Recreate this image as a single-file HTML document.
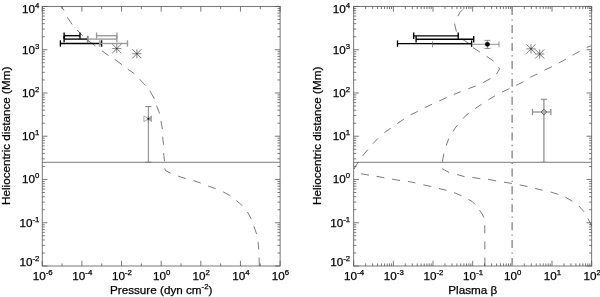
<!DOCTYPE html>
<html lang="en">
<head>
<meta charset="utf-8">
<title>Pressure and plasma beta vs heliocentric distance</title>
<style>html,body{margin:0;padding:0;background:#fff;}svg{display:block;}text{stroke:#000;stroke-width:0.25px;}</style>
</head>
<body>
<svg width="600" height="297" viewBox="0 0 600 297" font-family="'Liberation Sans', Arial, Helvetica, sans-serif" fill="#000" stroke="none">
<rect x="0" y="0" width="600" height="297" fill="#fff"/>
<rect x="42.25" y="6.45" width="237.85" height="259.55" fill="none" stroke="#585858" stroke-width="0.8"/>
<line x1="42.25" y1="266" x2="47.45" y2="266" stroke="#585858" stroke-width="0.8"/>
<line x1="280.1" y1="266" x2="274.9" y2="266" stroke="#585858" stroke-width="0.8"/>
<line x1="42.25" y1="252.98" x2="44.85" y2="252.98" stroke="#585858" stroke-width="0.8"/>
<line x1="280.1" y1="252.98" x2="277.5" y2="252.98" stroke="#585858" stroke-width="0.8"/>
<line x1="42.25" y1="245.36" x2="44.85" y2="245.36" stroke="#585858" stroke-width="0.8"/>
<line x1="280.1" y1="245.36" x2="277.5" y2="245.36" stroke="#585858" stroke-width="0.8"/>
<line x1="42.25" y1="239.96" x2="44.85" y2="239.96" stroke="#585858" stroke-width="0.8"/>
<line x1="280.1" y1="239.96" x2="277.5" y2="239.96" stroke="#585858" stroke-width="0.8"/>
<line x1="42.25" y1="235.76" x2="44.85" y2="235.76" stroke="#585858" stroke-width="0.8"/>
<line x1="280.1" y1="235.76" x2="277.5" y2="235.76" stroke="#585858" stroke-width="0.8"/>
<line x1="42.25" y1="232.34" x2="44.85" y2="232.34" stroke="#585858" stroke-width="0.8"/>
<line x1="280.1" y1="232.34" x2="277.5" y2="232.34" stroke="#585858" stroke-width="0.8"/>
<line x1="42.25" y1="229.44" x2="44.85" y2="229.44" stroke="#585858" stroke-width="0.8"/>
<line x1="280.1" y1="229.44" x2="277.5" y2="229.44" stroke="#585858" stroke-width="0.8"/>
<line x1="42.25" y1="226.93" x2="44.85" y2="226.93" stroke="#585858" stroke-width="0.8"/>
<line x1="280.1" y1="226.93" x2="277.5" y2="226.93" stroke="#585858" stroke-width="0.8"/>
<line x1="42.25" y1="224.72" x2="44.85" y2="224.72" stroke="#585858" stroke-width="0.8"/>
<line x1="280.1" y1="224.72" x2="277.5" y2="224.72" stroke="#585858" stroke-width="0.8"/>
<line x1="42.25" y1="222.74" x2="47.45" y2="222.74" stroke="#585858" stroke-width="0.8"/>
<line x1="280.1" y1="222.74" x2="274.9" y2="222.74" stroke="#585858" stroke-width="0.8"/>
<line x1="42.25" y1="209.72" x2="44.85" y2="209.72" stroke="#585858" stroke-width="0.8"/>
<line x1="280.1" y1="209.72" x2="277.5" y2="209.72" stroke="#585858" stroke-width="0.8"/>
<line x1="42.25" y1="202.1" x2="44.85" y2="202.1" stroke="#585858" stroke-width="0.8"/>
<line x1="280.1" y1="202.1" x2="277.5" y2="202.1" stroke="#585858" stroke-width="0.8"/>
<line x1="42.25" y1="196.7" x2="44.85" y2="196.7" stroke="#585858" stroke-width="0.8"/>
<line x1="280.1" y1="196.7" x2="277.5" y2="196.7" stroke="#585858" stroke-width="0.8"/>
<line x1="42.25" y1="192.51" x2="44.85" y2="192.51" stroke="#585858" stroke-width="0.8"/>
<line x1="280.1" y1="192.51" x2="277.5" y2="192.51" stroke="#585858" stroke-width="0.8"/>
<line x1="42.25" y1="189.08" x2="44.85" y2="189.08" stroke="#585858" stroke-width="0.8"/>
<line x1="280.1" y1="189.08" x2="277.5" y2="189.08" stroke="#585858" stroke-width="0.8"/>
<line x1="42.25" y1="186.18" x2="44.85" y2="186.18" stroke="#585858" stroke-width="0.8"/>
<line x1="280.1" y1="186.18" x2="277.5" y2="186.18" stroke="#585858" stroke-width="0.8"/>
<line x1="42.25" y1="183.68" x2="44.85" y2="183.68" stroke="#585858" stroke-width="0.8"/>
<line x1="280.1" y1="183.68" x2="277.5" y2="183.68" stroke="#585858" stroke-width="0.8"/>
<line x1="42.25" y1="181.46" x2="44.85" y2="181.46" stroke="#585858" stroke-width="0.8"/>
<line x1="280.1" y1="181.46" x2="277.5" y2="181.46" stroke="#585858" stroke-width="0.8"/>
<line x1="42.25" y1="179.48" x2="47.45" y2="179.48" stroke="#585858" stroke-width="0.8"/>
<line x1="280.1" y1="179.48" x2="274.9" y2="179.48" stroke="#585858" stroke-width="0.8"/>
<line x1="42.25" y1="166.46" x2="44.85" y2="166.46" stroke="#585858" stroke-width="0.8"/>
<line x1="280.1" y1="166.46" x2="277.5" y2="166.46" stroke="#585858" stroke-width="0.8"/>
<line x1="42.25" y1="158.84" x2="44.85" y2="158.84" stroke="#585858" stroke-width="0.8"/>
<line x1="280.1" y1="158.84" x2="277.5" y2="158.84" stroke="#585858" stroke-width="0.8"/>
<line x1="42.25" y1="153.44" x2="44.85" y2="153.44" stroke="#585858" stroke-width="0.8"/>
<line x1="280.1" y1="153.44" x2="277.5" y2="153.44" stroke="#585858" stroke-width="0.8"/>
<line x1="42.25" y1="149.25" x2="44.85" y2="149.25" stroke="#585858" stroke-width="0.8"/>
<line x1="280.1" y1="149.25" x2="277.5" y2="149.25" stroke="#585858" stroke-width="0.8"/>
<line x1="42.25" y1="145.82" x2="44.85" y2="145.82" stroke="#585858" stroke-width="0.8"/>
<line x1="280.1" y1="145.82" x2="277.5" y2="145.82" stroke="#585858" stroke-width="0.8"/>
<line x1="42.25" y1="142.93" x2="44.85" y2="142.93" stroke="#585858" stroke-width="0.8"/>
<line x1="280.1" y1="142.93" x2="277.5" y2="142.93" stroke="#585858" stroke-width="0.8"/>
<line x1="42.25" y1="140.42" x2="44.85" y2="140.42" stroke="#585858" stroke-width="0.8"/>
<line x1="280.1" y1="140.42" x2="277.5" y2="140.42" stroke="#585858" stroke-width="0.8"/>
<line x1="42.25" y1="138.2" x2="44.85" y2="138.2" stroke="#585858" stroke-width="0.8"/>
<line x1="280.1" y1="138.2" x2="277.5" y2="138.2" stroke="#585858" stroke-width="0.8"/>
<line x1="42.25" y1="136.22" x2="47.45" y2="136.22" stroke="#585858" stroke-width="0.8"/>
<line x1="280.1" y1="136.22" x2="274.9" y2="136.22" stroke="#585858" stroke-width="0.8"/>
<line x1="42.25" y1="123.2" x2="44.85" y2="123.2" stroke="#585858" stroke-width="0.8"/>
<line x1="280.1" y1="123.2" x2="277.5" y2="123.2" stroke="#585858" stroke-width="0.8"/>
<line x1="42.25" y1="115.59" x2="44.85" y2="115.59" stroke="#585858" stroke-width="0.8"/>
<line x1="280.1" y1="115.59" x2="277.5" y2="115.59" stroke="#585858" stroke-width="0.8"/>
<line x1="42.25" y1="110.18" x2="44.85" y2="110.18" stroke="#585858" stroke-width="0.8"/>
<line x1="280.1" y1="110.18" x2="277.5" y2="110.18" stroke="#585858" stroke-width="0.8"/>
<line x1="42.25" y1="105.99" x2="44.85" y2="105.99" stroke="#585858" stroke-width="0.8"/>
<line x1="280.1" y1="105.99" x2="277.5" y2="105.99" stroke="#585858" stroke-width="0.8"/>
<line x1="42.25" y1="102.56" x2="44.85" y2="102.56" stroke="#585858" stroke-width="0.8"/>
<line x1="280.1" y1="102.56" x2="277.5" y2="102.56" stroke="#585858" stroke-width="0.8"/>
<line x1="42.25" y1="99.67" x2="44.85" y2="99.67" stroke="#585858" stroke-width="0.8"/>
<line x1="280.1" y1="99.67" x2="277.5" y2="99.67" stroke="#585858" stroke-width="0.8"/>
<line x1="42.25" y1="97.16" x2="44.85" y2="97.16" stroke="#585858" stroke-width="0.8"/>
<line x1="280.1" y1="97.16" x2="277.5" y2="97.16" stroke="#585858" stroke-width="0.8"/>
<line x1="42.25" y1="94.95" x2="44.85" y2="94.95" stroke="#585858" stroke-width="0.8"/>
<line x1="280.1" y1="94.95" x2="277.5" y2="94.95" stroke="#585858" stroke-width="0.8"/>
<line x1="42.25" y1="92.97" x2="47.45" y2="92.97" stroke="#585858" stroke-width="0.8"/>
<line x1="280.1" y1="92.97" x2="274.9" y2="92.97" stroke="#585858" stroke-width="0.8"/>
<line x1="42.25" y1="79.94" x2="44.85" y2="79.94" stroke="#585858" stroke-width="0.8"/>
<line x1="280.1" y1="79.94" x2="277.5" y2="79.94" stroke="#585858" stroke-width="0.8"/>
<line x1="42.25" y1="72.33" x2="44.85" y2="72.33" stroke="#585858" stroke-width="0.8"/>
<line x1="280.1" y1="72.33" x2="277.5" y2="72.33" stroke="#585858" stroke-width="0.8"/>
<line x1="42.25" y1="66.92" x2="44.85" y2="66.92" stroke="#585858" stroke-width="0.8"/>
<line x1="280.1" y1="66.92" x2="277.5" y2="66.92" stroke="#585858" stroke-width="0.8"/>
<line x1="42.25" y1="62.73" x2="44.85" y2="62.73" stroke="#585858" stroke-width="0.8"/>
<line x1="280.1" y1="62.73" x2="277.5" y2="62.73" stroke="#585858" stroke-width="0.8"/>
<line x1="42.25" y1="59.31" x2="44.85" y2="59.31" stroke="#585858" stroke-width="0.8"/>
<line x1="280.1" y1="59.31" x2="277.5" y2="59.31" stroke="#585858" stroke-width="0.8"/>
<line x1="42.25" y1="56.41" x2="44.85" y2="56.41" stroke="#585858" stroke-width="0.8"/>
<line x1="280.1" y1="56.41" x2="277.5" y2="56.41" stroke="#585858" stroke-width="0.8"/>
<line x1="42.25" y1="53.9" x2="44.85" y2="53.9" stroke="#585858" stroke-width="0.8"/>
<line x1="280.1" y1="53.9" x2="277.5" y2="53.9" stroke="#585858" stroke-width="0.8"/>
<line x1="42.25" y1="51.69" x2="44.85" y2="51.69" stroke="#585858" stroke-width="0.8"/>
<line x1="280.1" y1="51.69" x2="277.5" y2="51.69" stroke="#585858" stroke-width="0.8"/>
<line x1="42.25" y1="49.71" x2="47.45" y2="49.71" stroke="#585858" stroke-width="0.8"/>
<line x1="280.1" y1="49.71" x2="274.9" y2="49.71" stroke="#585858" stroke-width="0.8"/>
<line x1="42.25" y1="36.69" x2="44.85" y2="36.69" stroke="#585858" stroke-width="0.8"/>
<line x1="280.1" y1="36.69" x2="277.5" y2="36.69" stroke="#585858" stroke-width="0.8"/>
<line x1="42.25" y1="29.07" x2="44.85" y2="29.07" stroke="#585858" stroke-width="0.8"/>
<line x1="280.1" y1="29.07" x2="277.5" y2="29.07" stroke="#585858" stroke-width="0.8"/>
<line x1="42.25" y1="23.66" x2="44.85" y2="23.66" stroke="#585858" stroke-width="0.8"/>
<line x1="280.1" y1="23.66" x2="277.5" y2="23.66" stroke="#585858" stroke-width="0.8"/>
<line x1="42.25" y1="19.47" x2="44.85" y2="19.47" stroke="#585858" stroke-width="0.8"/>
<line x1="280.1" y1="19.47" x2="277.5" y2="19.47" stroke="#585858" stroke-width="0.8"/>
<line x1="42.25" y1="16.05" x2="44.85" y2="16.05" stroke="#585858" stroke-width="0.8"/>
<line x1="280.1" y1="16.05" x2="277.5" y2="16.05" stroke="#585858" stroke-width="0.8"/>
<line x1="42.25" y1="13.15" x2="44.85" y2="13.15" stroke="#585858" stroke-width="0.8"/>
<line x1="280.1" y1="13.15" x2="277.5" y2="13.15" stroke="#585858" stroke-width="0.8"/>
<line x1="42.25" y1="10.64" x2="44.85" y2="10.64" stroke="#585858" stroke-width="0.8"/>
<line x1="280.1" y1="10.64" x2="277.5" y2="10.64" stroke="#585858" stroke-width="0.8"/>
<line x1="42.25" y1="8.43" x2="44.85" y2="8.43" stroke="#585858" stroke-width="0.8"/>
<line x1="280.1" y1="8.43" x2="277.5" y2="8.43" stroke="#585858" stroke-width="0.8"/>
<line x1="42.25" y1="6.45" x2="47.45" y2="6.45" stroke="#585858" stroke-width="0.8"/>
<line x1="280.1" y1="6.45" x2="274.9" y2="6.45" stroke="#585858" stroke-width="0.8"/>
<line x1="42.25" y1="6.45" x2="42.25" y2="11.65" stroke="#585858" stroke-width="0.8"/>
<line x1="42.25" y1="266" x2="42.25" y2="260.8" stroke="#585858" stroke-width="0.8"/>
<line x1="62.07" y1="6.45" x2="62.07" y2="9.05" stroke="#585858" stroke-width="0.8"/>
<line x1="62.07" y1="266" x2="62.07" y2="263.4" stroke="#585858" stroke-width="0.8"/>
<line x1="81.89" y1="6.45" x2="81.89" y2="11.65" stroke="#585858" stroke-width="0.8"/>
<line x1="81.89" y1="266" x2="81.89" y2="260.8" stroke="#585858" stroke-width="0.8"/>
<line x1="101.71" y1="6.45" x2="101.71" y2="9.05" stroke="#585858" stroke-width="0.8"/>
<line x1="101.71" y1="266" x2="101.71" y2="263.4" stroke="#585858" stroke-width="0.8"/>
<line x1="121.53" y1="6.45" x2="121.53" y2="11.65" stroke="#585858" stroke-width="0.8"/>
<line x1="121.53" y1="266" x2="121.53" y2="260.8" stroke="#585858" stroke-width="0.8"/>
<line x1="141.35" y1="6.45" x2="141.35" y2="9.05" stroke="#585858" stroke-width="0.8"/>
<line x1="141.35" y1="266" x2="141.35" y2="263.4" stroke="#585858" stroke-width="0.8"/>
<line x1="161.18" y1="6.45" x2="161.18" y2="11.65" stroke="#585858" stroke-width="0.8"/>
<line x1="161.18" y1="266" x2="161.18" y2="260.8" stroke="#585858" stroke-width="0.8"/>
<line x1="181" y1="6.45" x2="181" y2="9.05" stroke="#585858" stroke-width="0.8"/>
<line x1="181" y1="266" x2="181" y2="263.4" stroke="#585858" stroke-width="0.8"/>
<line x1="200.82" y1="6.45" x2="200.82" y2="11.65" stroke="#585858" stroke-width="0.8"/>
<line x1="200.82" y1="266" x2="200.82" y2="260.8" stroke="#585858" stroke-width="0.8"/>
<line x1="220.64" y1="6.45" x2="220.64" y2="9.05" stroke="#585858" stroke-width="0.8"/>
<line x1="220.64" y1="266" x2="220.64" y2="263.4" stroke="#585858" stroke-width="0.8"/>
<line x1="240.46" y1="6.45" x2="240.46" y2="11.65" stroke="#585858" stroke-width="0.8"/>
<line x1="240.46" y1="266" x2="240.46" y2="260.8" stroke="#585858" stroke-width="0.8"/>
<line x1="260.28" y1="6.45" x2="260.28" y2="9.05" stroke="#585858" stroke-width="0.8"/>
<line x1="260.28" y1="266" x2="260.28" y2="263.4" stroke="#585858" stroke-width="0.8"/>
<line x1="280.1" y1="6.45" x2="280.1" y2="11.65" stroke="#585858" stroke-width="0.8"/>
<line x1="280.1" y1="266" x2="280.1" y2="260.8" stroke="#585858" stroke-width="0.8"/>
<line x1="42.25" y1="162.3" x2="280.1" y2="162.3" stroke="#585858" stroke-width="0.8"/>
<text x="39.35" y="13" text-anchor="end" font-size="11.7">10<tspan dy="-5" font-size="7.8">4</tspan></text>
<text x="39.35" y="53.61" text-anchor="end" font-size="11.7">10<tspan dy="-5" font-size="7.8">3</tspan></text>
<text x="39.35" y="96.87" text-anchor="end" font-size="11.7">10<tspan dy="-5" font-size="7.8">2</tspan></text>
<text x="39.35" y="140.12" text-anchor="end" font-size="11.7">10<tspan dy="-5" font-size="7.8">1</tspan></text>
<text x="39.35" y="183.38" text-anchor="end" font-size="11.7">10<tspan dy="-5" font-size="7.8">0</tspan></text>
<text x="39.35" y="226.64" text-anchor="end" font-size="11.7">10<tspan dy="-5" font-size="7.8">-1</tspan></text>
<text x="39.35" y="265.6" text-anchor="end" font-size="11.7">10<tspan dy="-5" font-size="7.8">-2</tspan></text>
<text x="42.65" y="280.2" text-anchor="middle" font-size="11.7">10<tspan dy="-5" font-size="7.8">-6</tspan></text>
<text x="82.29" y="280.2" text-anchor="middle" font-size="11.7">10<tspan dy="-5" font-size="7.8">-4</tspan></text>
<text x="121.93" y="280.2" text-anchor="middle" font-size="11.7">10<tspan dy="-5" font-size="7.8">-2</tspan></text>
<text x="161.58" y="280.2" text-anchor="middle" font-size="11.7">10<tspan dy="-5" font-size="7.8">0</tspan></text>
<text x="201.22" y="280.2" text-anchor="middle" font-size="11.7">10<tspan dy="-5" font-size="7.8">2</tspan></text>
<text x="240.86" y="280.2" text-anchor="middle" font-size="11.7">10<tspan dy="-5" font-size="7.8">4</tspan></text>
<text x="280.5" y="280.2" text-anchor="middle" font-size="11.7">10<tspan dy="-5" font-size="7.8">6</tspan></text>
<text x="161.2" y="293.6" text-anchor="middle" font-size="11.7">Pressure (dyn cm<tspan dy="-5" font-size="7.8">-2</tspan><tspan dy="5" font-size="11.7">)</tspan></text>
<text transform="translate(10.1,135.8) rotate(-90)" text-anchor="middle" font-size="11.7">Heliocentric distance (Mm)</text>
<polyline points="61.4,6.5 64,10.4" fill="none" stroke="#333" stroke-width="0.65"/>
<polyline points="67.2,17.2 72.2,24.5" fill="none" stroke="#333" stroke-width="0.65"/>
<polyline points="77.2,30 82.6,35.7" fill="none" stroke="#333" stroke-width="0.65"/>
<polyline points="88.4,40.7 95.5,46" fill="none" stroke="#333" stroke-width="0.65"/>
<polyline points="101.9,50.8 108.5,55.5" fill="none" stroke="#333" stroke-width="0.65"/>
<polyline points="114.9,59.5 121.9,64.6" fill="none" stroke="#333" stroke-width="0.65"/>
<polyline points="127.7,69 134.3,73.7" fill="none" stroke="#333" stroke-width="0.65"/>
<polyline points="139.6,79.2 145.6,85.5" fill="none" stroke="#333" stroke-width="0.65"/>
<polyline points="149.9,90.9 154.3,98.7" fill="none" stroke="#333" stroke-width="0.65"/>
<polyline points="156.5,105.7 159.6,113.5" fill="none" stroke="#333" stroke-width="0.65"/>
<polyline points="161,120.9 162.3,129" fill="none" stroke="#333" stroke-width="0.65"/>
<polyline points="162.6,136.7 163.6,144.8" fill="none" stroke="#333" stroke-width="0.65"/>
<polyline points="163.6,152.9 164.5,161.2" fill="none" stroke="#333" stroke-width="0.65"/>
<polyline points="164.8,168.5 165.5,170.5 170.5,173.2" fill="none" stroke="#333" stroke-width="0.65"/>
<polyline points="178,176.1 185.7,178.6" fill="none" stroke="#333" stroke-width="0.65"/>
<polyline points="193.4,180.6 200.8,183" fill="none" stroke="#333" stroke-width="0.65"/>
<polyline points="208.2,186 215.6,188.7" fill="none" stroke="#333" stroke-width="0.65"/>
<polyline points="223.1,191.85 230.2,195.75" fill="none" stroke="#333" stroke-width="0.65"/>
<polyline points="236.3,200.5 242.3,205.6" fill="none" stroke="#333" stroke-width="0.65"/>
<polyline points="247.5,212 251.2,218.9" fill="none" stroke="#333" stroke-width="0.65"/>
<polyline points="253.9,226.2 256.6,234" fill="none" stroke="#333" stroke-width="0.65"/>
<polyline points="258,241.8 258.8,249.5" fill="none" stroke="#333" stroke-width="0.65"/>
<polyline points="259.1,257.6 259.3,266" fill="none" stroke="#333" stroke-width="0.65"/>
<line x1="64.1" y1="35.7" x2="80" y2="35.7" stroke="#000" stroke-width="1.35"/>
<line x1="64.1" y1="32.5" x2="64.1" y2="38.9" stroke="#000" stroke-width="1.35"/>
<line x1="80" y1="32.5" x2="80" y2="38.9" stroke="#000" stroke-width="1.35"/>
<line x1="64.1" y1="39.1" x2="87.6" y2="39.1" stroke="#000" stroke-width="1.35"/>
<line x1="64.1" y1="35.9" x2="64.1" y2="42.3" stroke="#000" stroke-width="1.35"/>
<line x1="87.6" y1="35.9" x2="87.6" y2="42.3" stroke="#000" stroke-width="1.35"/>
<line x1="60.4" y1="43.5" x2="101.6" y2="43.5" stroke="#000" stroke-width="1.35"/>
<line x1="60.4" y1="40.3" x2="60.4" y2="46.7" stroke="#000" stroke-width="1.35"/>
<line x1="101.6" y1="40.3" x2="101.6" y2="46.7" stroke="#000" stroke-width="1.35"/>
<line x1="96.6" y1="35.7" x2="117" y2="35.7" stroke="#999" stroke-width="1.35"/>
<line x1="96.6" y1="32.5" x2="96.6" y2="38.9" stroke="#999" stroke-width="1.35"/>
<line x1="117" y1="32.5" x2="117" y2="38.9" stroke="#999" stroke-width="1.35"/>
<line x1="87.8" y1="39.1" x2="116.8" y2="39.1" stroke="#999" stroke-width="1.35"/>
<line x1="87.8" y1="35.9" x2="87.8" y2="42.3" stroke="#999" stroke-width="1.35"/>
<line x1="116.8" y1="35.9" x2="116.8" y2="42.3" stroke="#999" stroke-width="1.35"/>
<line x1="99.8" y1="43.5" x2="127.5" y2="43.5" stroke="#999" stroke-width="1.35"/>
<line x1="99.8" y1="40.3" x2="99.8" y2="46.7" stroke="#999" stroke-width="1.35"/>
<line x1="127.5" y1="40.3" x2="127.5" y2="46.7" stroke="#999" stroke-width="1.35"/>
<line x1="112.2" y1="48.6" x2="121.4" y2="48.6" stroke="#333" stroke-width="0.6"/>
<line x1="116.8" y1="44" x2="116.8" y2="53.2" stroke="#333" stroke-width="0.6"/>
<line x1="112.2" y1="44" x2="121.4" y2="53.2" stroke="#222" stroke-width="0.6"/>
<line x1="112.2" y1="53.2" x2="121.4" y2="44" stroke="#222" stroke-width="0.6"/>
<line x1="132.3" y1="53.75" x2="141.5" y2="53.75" stroke="#333" stroke-width="0.6"/>
<line x1="136.9" y1="49.15" x2="136.9" y2="58.35" stroke="#333" stroke-width="0.6"/>
<line x1="132.3" y1="49.15" x2="141.5" y2="58.35" stroke="#222" stroke-width="0.6"/>
<line x1="132.3" y1="58.35" x2="141.5" y2="49.15" stroke="#222" stroke-width="0.6"/>
<line x1="148.35" y1="106.6" x2="148.35" y2="162.3" stroke="#777" stroke-width="0.9"/>
<line x1="145.25" y1="106.6" x2="151.45" y2="106.6" stroke="#777" stroke-width="0.9"/>
<line x1="145.25" y1="162.3" x2="151.45" y2="162.3" stroke="#777" stroke-width="0.9"/>
<polygon points="143.9,115.85 148.35,118.75 143.9,121.65" fill="#fff" stroke="#999" stroke-width="0.8"/>
<polygon points="151.5,115.85 148.35,118.75 151.5,121.65" fill="#aaa" stroke="#999" stroke-width="0.8"/>
<line x1="148.35" y1="115.75" x2="148.35" y2="121.75" stroke="#777" stroke-width="0.9"/>
<circle cx="148.35" cy="118.75" r="0.9" fill="#111"/>
<rect x="353.7" y="6.45" width="238" height="259.55" fill="none" stroke="#585858" stroke-width="0.8"/>
<line x1="353.7" y1="266" x2="358.9" y2="266" stroke="#585858" stroke-width="0.8"/>
<line x1="591.7" y1="266" x2="586.5" y2="266" stroke="#585858" stroke-width="0.8"/>
<line x1="353.7" y1="252.98" x2="356.3" y2="252.98" stroke="#585858" stroke-width="0.8"/>
<line x1="591.7" y1="252.98" x2="589.1" y2="252.98" stroke="#585858" stroke-width="0.8"/>
<line x1="353.7" y1="245.36" x2="356.3" y2="245.36" stroke="#585858" stroke-width="0.8"/>
<line x1="591.7" y1="245.36" x2="589.1" y2="245.36" stroke="#585858" stroke-width="0.8"/>
<line x1="353.7" y1="239.96" x2="356.3" y2="239.96" stroke="#585858" stroke-width="0.8"/>
<line x1="591.7" y1="239.96" x2="589.1" y2="239.96" stroke="#585858" stroke-width="0.8"/>
<line x1="353.7" y1="235.76" x2="356.3" y2="235.76" stroke="#585858" stroke-width="0.8"/>
<line x1="591.7" y1="235.76" x2="589.1" y2="235.76" stroke="#585858" stroke-width="0.8"/>
<line x1="353.7" y1="232.34" x2="356.3" y2="232.34" stroke="#585858" stroke-width="0.8"/>
<line x1="591.7" y1="232.34" x2="589.1" y2="232.34" stroke="#585858" stroke-width="0.8"/>
<line x1="353.7" y1="229.44" x2="356.3" y2="229.44" stroke="#585858" stroke-width="0.8"/>
<line x1="591.7" y1="229.44" x2="589.1" y2="229.44" stroke="#585858" stroke-width="0.8"/>
<line x1="353.7" y1="226.93" x2="356.3" y2="226.93" stroke="#585858" stroke-width="0.8"/>
<line x1="591.7" y1="226.93" x2="589.1" y2="226.93" stroke="#585858" stroke-width="0.8"/>
<line x1="353.7" y1="224.72" x2="356.3" y2="224.72" stroke="#585858" stroke-width="0.8"/>
<line x1="591.7" y1="224.72" x2="589.1" y2="224.72" stroke="#585858" stroke-width="0.8"/>
<line x1="353.7" y1="222.74" x2="358.9" y2="222.74" stroke="#585858" stroke-width="0.8"/>
<line x1="591.7" y1="222.74" x2="586.5" y2="222.74" stroke="#585858" stroke-width="0.8"/>
<line x1="353.7" y1="209.72" x2="356.3" y2="209.72" stroke="#585858" stroke-width="0.8"/>
<line x1="591.7" y1="209.72" x2="589.1" y2="209.72" stroke="#585858" stroke-width="0.8"/>
<line x1="353.7" y1="202.1" x2="356.3" y2="202.1" stroke="#585858" stroke-width="0.8"/>
<line x1="591.7" y1="202.1" x2="589.1" y2="202.1" stroke="#585858" stroke-width="0.8"/>
<line x1="353.7" y1="196.7" x2="356.3" y2="196.7" stroke="#585858" stroke-width="0.8"/>
<line x1="591.7" y1="196.7" x2="589.1" y2="196.7" stroke="#585858" stroke-width="0.8"/>
<line x1="353.7" y1="192.51" x2="356.3" y2="192.51" stroke="#585858" stroke-width="0.8"/>
<line x1="591.7" y1="192.51" x2="589.1" y2="192.51" stroke="#585858" stroke-width="0.8"/>
<line x1="353.7" y1="189.08" x2="356.3" y2="189.08" stroke="#585858" stroke-width="0.8"/>
<line x1="591.7" y1="189.08" x2="589.1" y2="189.08" stroke="#585858" stroke-width="0.8"/>
<line x1="353.7" y1="186.18" x2="356.3" y2="186.18" stroke="#585858" stroke-width="0.8"/>
<line x1="591.7" y1="186.18" x2="589.1" y2="186.18" stroke="#585858" stroke-width="0.8"/>
<line x1="353.7" y1="183.68" x2="356.3" y2="183.68" stroke="#585858" stroke-width="0.8"/>
<line x1="591.7" y1="183.68" x2="589.1" y2="183.68" stroke="#585858" stroke-width="0.8"/>
<line x1="353.7" y1="181.46" x2="356.3" y2="181.46" stroke="#585858" stroke-width="0.8"/>
<line x1="591.7" y1="181.46" x2="589.1" y2="181.46" stroke="#585858" stroke-width="0.8"/>
<line x1="353.7" y1="179.48" x2="358.9" y2="179.48" stroke="#585858" stroke-width="0.8"/>
<line x1="591.7" y1="179.48" x2="586.5" y2="179.48" stroke="#585858" stroke-width="0.8"/>
<line x1="353.7" y1="166.46" x2="356.3" y2="166.46" stroke="#585858" stroke-width="0.8"/>
<line x1="591.7" y1="166.46" x2="589.1" y2="166.46" stroke="#585858" stroke-width="0.8"/>
<line x1="353.7" y1="158.84" x2="356.3" y2="158.84" stroke="#585858" stroke-width="0.8"/>
<line x1="591.7" y1="158.84" x2="589.1" y2="158.84" stroke="#585858" stroke-width="0.8"/>
<line x1="353.7" y1="153.44" x2="356.3" y2="153.44" stroke="#585858" stroke-width="0.8"/>
<line x1="591.7" y1="153.44" x2="589.1" y2="153.44" stroke="#585858" stroke-width="0.8"/>
<line x1="353.7" y1="149.25" x2="356.3" y2="149.25" stroke="#585858" stroke-width="0.8"/>
<line x1="591.7" y1="149.25" x2="589.1" y2="149.25" stroke="#585858" stroke-width="0.8"/>
<line x1="353.7" y1="145.82" x2="356.3" y2="145.82" stroke="#585858" stroke-width="0.8"/>
<line x1="591.7" y1="145.82" x2="589.1" y2="145.82" stroke="#585858" stroke-width="0.8"/>
<line x1="353.7" y1="142.93" x2="356.3" y2="142.93" stroke="#585858" stroke-width="0.8"/>
<line x1="591.7" y1="142.93" x2="589.1" y2="142.93" stroke="#585858" stroke-width="0.8"/>
<line x1="353.7" y1="140.42" x2="356.3" y2="140.42" stroke="#585858" stroke-width="0.8"/>
<line x1="591.7" y1="140.42" x2="589.1" y2="140.42" stroke="#585858" stroke-width="0.8"/>
<line x1="353.7" y1="138.2" x2="356.3" y2="138.2" stroke="#585858" stroke-width="0.8"/>
<line x1="591.7" y1="138.2" x2="589.1" y2="138.2" stroke="#585858" stroke-width="0.8"/>
<line x1="353.7" y1="136.22" x2="358.9" y2="136.22" stroke="#585858" stroke-width="0.8"/>
<line x1="591.7" y1="136.22" x2="586.5" y2="136.22" stroke="#585858" stroke-width="0.8"/>
<line x1="353.7" y1="123.2" x2="356.3" y2="123.2" stroke="#585858" stroke-width="0.8"/>
<line x1="591.7" y1="123.2" x2="589.1" y2="123.2" stroke="#585858" stroke-width="0.8"/>
<line x1="353.7" y1="115.59" x2="356.3" y2="115.59" stroke="#585858" stroke-width="0.8"/>
<line x1="591.7" y1="115.59" x2="589.1" y2="115.59" stroke="#585858" stroke-width="0.8"/>
<line x1="353.7" y1="110.18" x2="356.3" y2="110.18" stroke="#585858" stroke-width="0.8"/>
<line x1="591.7" y1="110.18" x2="589.1" y2="110.18" stroke="#585858" stroke-width="0.8"/>
<line x1="353.7" y1="105.99" x2="356.3" y2="105.99" stroke="#585858" stroke-width="0.8"/>
<line x1="591.7" y1="105.99" x2="589.1" y2="105.99" stroke="#585858" stroke-width="0.8"/>
<line x1="353.7" y1="102.56" x2="356.3" y2="102.56" stroke="#585858" stroke-width="0.8"/>
<line x1="591.7" y1="102.56" x2="589.1" y2="102.56" stroke="#585858" stroke-width="0.8"/>
<line x1="353.7" y1="99.67" x2="356.3" y2="99.67" stroke="#585858" stroke-width="0.8"/>
<line x1="591.7" y1="99.67" x2="589.1" y2="99.67" stroke="#585858" stroke-width="0.8"/>
<line x1="353.7" y1="97.16" x2="356.3" y2="97.16" stroke="#585858" stroke-width="0.8"/>
<line x1="591.7" y1="97.16" x2="589.1" y2="97.16" stroke="#585858" stroke-width="0.8"/>
<line x1="353.7" y1="94.95" x2="356.3" y2="94.95" stroke="#585858" stroke-width="0.8"/>
<line x1="591.7" y1="94.95" x2="589.1" y2="94.95" stroke="#585858" stroke-width="0.8"/>
<line x1="353.7" y1="92.97" x2="358.9" y2="92.97" stroke="#585858" stroke-width="0.8"/>
<line x1="591.7" y1="92.97" x2="586.5" y2="92.97" stroke="#585858" stroke-width="0.8"/>
<line x1="353.7" y1="79.94" x2="356.3" y2="79.94" stroke="#585858" stroke-width="0.8"/>
<line x1="591.7" y1="79.94" x2="589.1" y2="79.94" stroke="#585858" stroke-width="0.8"/>
<line x1="353.7" y1="72.33" x2="356.3" y2="72.33" stroke="#585858" stroke-width="0.8"/>
<line x1="591.7" y1="72.33" x2="589.1" y2="72.33" stroke="#585858" stroke-width="0.8"/>
<line x1="353.7" y1="66.92" x2="356.3" y2="66.92" stroke="#585858" stroke-width="0.8"/>
<line x1="591.7" y1="66.92" x2="589.1" y2="66.92" stroke="#585858" stroke-width="0.8"/>
<line x1="353.7" y1="62.73" x2="356.3" y2="62.73" stroke="#585858" stroke-width="0.8"/>
<line x1="591.7" y1="62.73" x2="589.1" y2="62.73" stroke="#585858" stroke-width="0.8"/>
<line x1="353.7" y1="59.31" x2="356.3" y2="59.31" stroke="#585858" stroke-width="0.8"/>
<line x1="591.7" y1="59.31" x2="589.1" y2="59.31" stroke="#585858" stroke-width="0.8"/>
<line x1="353.7" y1="56.41" x2="356.3" y2="56.41" stroke="#585858" stroke-width="0.8"/>
<line x1="591.7" y1="56.41" x2="589.1" y2="56.41" stroke="#585858" stroke-width="0.8"/>
<line x1="353.7" y1="53.9" x2="356.3" y2="53.9" stroke="#585858" stroke-width="0.8"/>
<line x1="591.7" y1="53.9" x2="589.1" y2="53.9" stroke="#585858" stroke-width="0.8"/>
<line x1="353.7" y1="51.69" x2="356.3" y2="51.69" stroke="#585858" stroke-width="0.8"/>
<line x1="591.7" y1="51.69" x2="589.1" y2="51.69" stroke="#585858" stroke-width="0.8"/>
<line x1="353.7" y1="49.71" x2="358.9" y2="49.71" stroke="#585858" stroke-width="0.8"/>
<line x1="591.7" y1="49.71" x2="586.5" y2="49.71" stroke="#585858" stroke-width="0.8"/>
<line x1="353.7" y1="36.69" x2="356.3" y2="36.69" stroke="#585858" stroke-width="0.8"/>
<line x1="591.7" y1="36.69" x2="589.1" y2="36.69" stroke="#585858" stroke-width="0.8"/>
<line x1="353.7" y1="29.07" x2="356.3" y2="29.07" stroke="#585858" stroke-width="0.8"/>
<line x1="591.7" y1="29.07" x2="589.1" y2="29.07" stroke="#585858" stroke-width="0.8"/>
<line x1="353.7" y1="23.66" x2="356.3" y2="23.66" stroke="#585858" stroke-width="0.8"/>
<line x1="591.7" y1="23.66" x2="589.1" y2="23.66" stroke="#585858" stroke-width="0.8"/>
<line x1="353.7" y1="19.47" x2="356.3" y2="19.47" stroke="#585858" stroke-width="0.8"/>
<line x1="591.7" y1="19.47" x2="589.1" y2="19.47" stroke="#585858" stroke-width="0.8"/>
<line x1="353.7" y1="16.05" x2="356.3" y2="16.05" stroke="#585858" stroke-width="0.8"/>
<line x1="591.7" y1="16.05" x2="589.1" y2="16.05" stroke="#585858" stroke-width="0.8"/>
<line x1="353.7" y1="13.15" x2="356.3" y2="13.15" stroke="#585858" stroke-width="0.8"/>
<line x1="591.7" y1="13.15" x2="589.1" y2="13.15" stroke="#585858" stroke-width="0.8"/>
<line x1="353.7" y1="10.64" x2="356.3" y2="10.64" stroke="#585858" stroke-width="0.8"/>
<line x1="591.7" y1="10.64" x2="589.1" y2="10.64" stroke="#585858" stroke-width="0.8"/>
<line x1="353.7" y1="8.43" x2="356.3" y2="8.43" stroke="#585858" stroke-width="0.8"/>
<line x1="591.7" y1="8.43" x2="589.1" y2="8.43" stroke="#585858" stroke-width="0.8"/>
<line x1="353.7" y1="6.45" x2="358.9" y2="6.45" stroke="#585858" stroke-width="0.8"/>
<line x1="591.7" y1="6.45" x2="586.5" y2="6.45" stroke="#585858" stroke-width="0.8"/>
<line x1="353.7" y1="6.45" x2="353.7" y2="11.65" stroke="#585858" stroke-width="0.8"/>
<line x1="353.7" y1="266" x2="353.7" y2="260.8" stroke="#585858" stroke-width="0.8"/>
<line x1="365.64" y1="6.45" x2="365.64" y2="9.05" stroke="#585858" stroke-width="0.8"/>
<line x1="365.64" y1="266" x2="365.64" y2="263.4" stroke="#585858" stroke-width="0.8"/>
<line x1="372.63" y1="6.45" x2="372.63" y2="9.05" stroke="#585858" stroke-width="0.8"/>
<line x1="372.63" y1="266" x2="372.63" y2="263.4" stroke="#585858" stroke-width="0.8"/>
<line x1="377.58" y1="6.45" x2="377.58" y2="9.05" stroke="#585858" stroke-width="0.8"/>
<line x1="377.58" y1="266" x2="377.58" y2="263.4" stroke="#585858" stroke-width="0.8"/>
<line x1="381.43" y1="6.45" x2="381.43" y2="9.05" stroke="#585858" stroke-width="0.8"/>
<line x1="381.43" y1="266" x2="381.43" y2="263.4" stroke="#585858" stroke-width="0.8"/>
<line x1="384.57" y1="6.45" x2="384.57" y2="9.05" stroke="#585858" stroke-width="0.8"/>
<line x1="384.57" y1="266" x2="384.57" y2="263.4" stroke="#585858" stroke-width="0.8"/>
<line x1="387.22" y1="6.45" x2="387.22" y2="9.05" stroke="#585858" stroke-width="0.8"/>
<line x1="387.22" y1="266" x2="387.22" y2="263.4" stroke="#585858" stroke-width="0.8"/>
<line x1="389.52" y1="6.45" x2="389.52" y2="9.05" stroke="#585858" stroke-width="0.8"/>
<line x1="389.52" y1="266" x2="389.52" y2="263.4" stroke="#585858" stroke-width="0.8"/>
<line x1="391.55" y1="6.45" x2="391.55" y2="9.05" stroke="#585858" stroke-width="0.8"/>
<line x1="391.55" y1="266" x2="391.55" y2="263.4" stroke="#585858" stroke-width="0.8"/>
<line x1="393.37" y1="6.45" x2="393.37" y2="11.65" stroke="#585858" stroke-width="0.8"/>
<line x1="393.37" y1="266" x2="393.37" y2="260.8" stroke="#585858" stroke-width="0.8"/>
<line x1="405.31" y1="6.45" x2="405.31" y2="9.05" stroke="#585858" stroke-width="0.8"/>
<line x1="405.31" y1="266" x2="405.31" y2="263.4" stroke="#585858" stroke-width="0.8"/>
<line x1="412.29" y1="6.45" x2="412.29" y2="9.05" stroke="#585858" stroke-width="0.8"/>
<line x1="412.29" y1="266" x2="412.29" y2="263.4" stroke="#585858" stroke-width="0.8"/>
<line x1="417.25" y1="6.45" x2="417.25" y2="9.05" stroke="#585858" stroke-width="0.8"/>
<line x1="417.25" y1="266" x2="417.25" y2="263.4" stroke="#585858" stroke-width="0.8"/>
<line x1="421.09" y1="6.45" x2="421.09" y2="9.05" stroke="#585858" stroke-width="0.8"/>
<line x1="421.09" y1="266" x2="421.09" y2="263.4" stroke="#585858" stroke-width="0.8"/>
<line x1="424.23" y1="6.45" x2="424.23" y2="9.05" stroke="#585858" stroke-width="0.8"/>
<line x1="424.23" y1="266" x2="424.23" y2="263.4" stroke="#585858" stroke-width="0.8"/>
<line x1="426.89" y1="6.45" x2="426.89" y2="9.05" stroke="#585858" stroke-width="0.8"/>
<line x1="426.89" y1="266" x2="426.89" y2="263.4" stroke="#585858" stroke-width="0.8"/>
<line x1="429.19" y1="6.45" x2="429.19" y2="9.05" stroke="#585858" stroke-width="0.8"/>
<line x1="429.19" y1="266" x2="429.19" y2="263.4" stroke="#585858" stroke-width="0.8"/>
<line x1="431.22" y1="6.45" x2="431.22" y2="9.05" stroke="#585858" stroke-width="0.8"/>
<line x1="431.22" y1="266" x2="431.22" y2="263.4" stroke="#585858" stroke-width="0.8"/>
<line x1="433.03" y1="6.45" x2="433.03" y2="11.65" stroke="#585858" stroke-width="0.8"/>
<line x1="433.03" y1="266" x2="433.03" y2="260.8" stroke="#585858" stroke-width="0.8"/>
<line x1="444.97" y1="6.45" x2="444.97" y2="9.05" stroke="#585858" stroke-width="0.8"/>
<line x1="444.97" y1="266" x2="444.97" y2="263.4" stroke="#585858" stroke-width="0.8"/>
<line x1="451.96" y1="6.45" x2="451.96" y2="9.05" stroke="#585858" stroke-width="0.8"/>
<line x1="451.96" y1="266" x2="451.96" y2="263.4" stroke="#585858" stroke-width="0.8"/>
<line x1="456.92" y1="6.45" x2="456.92" y2="9.05" stroke="#585858" stroke-width="0.8"/>
<line x1="456.92" y1="266" x2="456.92" y2="263.4" stroke="#585858" stroke-width="0.8"/>
<line x1="460.76" y1="6.45" x2="460.76" y2="9.05" stroke="#585858" stroke-width="0.8"/>
<line x1="460.76" y1="266" x2="460.76" y2="263.4" stroke="#585858" stroke-width="0.8"/>
<line x1="463.9" y1="6.45" x2="463.9" y2="9.05" stroke="#585858" stroke-width="0.8"/>
<line x1="463.9" y1="266" x2="463.9" y2="263.4" stroke="#585858" stroke-width="0.8"/>
<line x1="466.56" y1="6.45" x2="466.56" y2="9.05" stroke="#585858" stroke-width="0.8"/>
<line x1="466.56" y1="266" x2="466.56" y2="263.4" stroke="#585858" stroke-width="0.8"/>
<line x1="468.86" y1="6.45" x2="468.86" y2="9.05" stroke="#585858" stroke-width="0.8"/>
<line x1="468.86" y1="266" x2="468.86" y2="263.4" stroke="#585858" stroke-width="0.8"/>
<line x1="470.88" y1="6.45" x2="470.88" y2="9.05" stroke="#585858" stroke-width="0.8"/>
<line x1="470.88" y1="266" x2="470.88" y2="263.4" stroke="#585858" stroke-width="0.8"/>
<line x1="472.7" y1="6.45" x2="472.7" y2="11.65" stroke="#585858" stroke-width="0.8"/>
<line x1="472.7" y1="266" x2="472.7" y2="260.8" stroke="#585858" stroke-width="0.8"/>
<line x1="484.64" y1="6.45" x2="484.64" y2="9.05" stroke="#585858" stroke-width="0.8"/>
<line x1="484.64" y1="266" x2="484.64" y2="263.4" stroke="#585858" stroke-width="0.8"/>
<line x1="491.63" y1="6.45" x2="491.63" y2="9.05" stroke="#585858" stroke-width="0.8"/>
<line x1="491.63" y1="266" x2="491.63" y2="263.4" stroke="#585858" stroke-width="0.8"/>
<line x1="496.58" y1="6.45" x2="496.58" y2="9.05" stroke="#585858" stroke-width="0.8"/>
<line x1="496.58" y1="266" x2="496.58" y2="263.4" stroke="#585858" stroke-width="0.8"/>
<line x1="500.43" y1="6.45" x2="500.43" y2="9.05" stroke="#585858" stroke-width="0.8"/>
<line x1="500.43" y1="266" x2="500.43" y2="263.4" stroke="#585858" stroke-width="0.8"/>
<line x1="503.57" y1="6.45" x2="503.57" y2="9.05" stroke="#585858" stroke-width="0.8"/>
<line x1="503.57" y1="266" x2="503.57" y2="263.4" stroke="#585858" stroke-width="0.8"/>
<line x1="506.22" y1="6.45" x2="506.22" y2="9.05" stroke="#585858" stroke-width="0.8"/>
<line x1="506.22" y1="266" x2="506.22" y2="263.4" stroke="#585858" stroke-width="0.8"/>
<line x1="508.52" y1="6.45" x2="508.52" y2="9.05" stroke="#585858" stroke-width="0.8"/>
<line x1="508.52" y1="266" x2="508.52" y2="263.4" stroke="#585858" stroke-width="0.8"/>
<line x1="510.55" y1="6.45" x2="510.55" y2="9.05" stroke="#585858" stroke-width="0.8"/>
<line x1="510.55" y1="266" x2="510.55" y2="263.4" stroke="#585858" stroke-width="0.8"/>
<line x1="512.37" y1="6.45" x2="512.37" y2="11.65" stroke="#585858" stroke-width="0.8"/>
<line x1="512.37" y1="266" x2="512.37" y2="260.8" stroke="#585858" stroke-width="0.8"/>
<line x1="524.31" y1="6.45" x2="524.31" y2="9.05" stroke="#585858" stroke-width="0.8"/>
<line x1="524.31" y1="266" x2="524.31" y2="263.4" stroke="#585858" stroke-width="0.8"/>
<line x1="531.29" y1="6.45" x2="531.29" y2="9.05" stroke="#585858" stroke-width="0.8"/>
<line x1="531.29" y1="266" x2="531.29" y2="263.4" stroke="#585858" stroke-width="0.8"/>
<line x1="536.25" y1="6.45" x2="536.25" y2="9.05" stroke="#585858" stroke-width="0.8"/>
<line x1="536.25" y1="266" x2="536.25" y2="263.4" stroke="#585858" stroke-width="0.8"/>
<line x1="540.09" y1="6.45" x2="540.09" y2="9.05" stroke="#585858" stroke-width="0.8"/>
<line x1="540.09" y1="266" x2="540.09" y2="263.4" stroke="#585858" stroke-width="0.8"/>
<line x1="543.23" y1="6.45" x2="543.23" y2="9.05" stroke="#585858" stroke-width="0.8"/>
<line x1="543.23" y1="266" x2="543.23" y2="263.4" stroke="#585858" stroke-width="0.8"/>
<line x1="545.89" y1="6.45" x2="545.89" y2="9.05" stroke="#585858" stroke-width="0.8"/>
<line x1="545.89" y1="266" x2="545.89" y2="263.4" stroke="#585858" stroke-width="0.8"/>
<line x1="548.19" y1="6.45" x2="548.19" y2="9.05" stroke="#585858" stroke-width="0.8"/>
<line x1="548.19" y1="266" x2="548.19" y2="263.4" stroke="#585858" stroke-width="0.8"/>
<line x1="550.22" y1="6.45" x2="550.22" y2="9.05" stroke="#585858" stroke-width="0.8"/>
<line x1="550.22" y1="266" x2="550.22" y2="263.4" stroke="#585858" stroke-width="0.8"/>
<line x1="552.03" y1="6.45" x2="552.03" y2="11.65" stroke="#585858" stroke-width="0.8"/>
<line x1="552.03" y1="266" x2="552.03" y2="260.8" stroke="#585858" stroke-width="0.8"/>
<line x1="563.97" y1="6.45" x2="563.97" y2="9.05" stroke="#585858" stroke-width="0.8"/>
<line x1="563.97" y1="266" x2="563.97" y2="263.4" stroke="#585858" stroke-width="0.8"/>
<line x1="570.96" y1="6.45" x2="570.96" y2="9.05" stroke="#585858" stroke-width="0.8"/>
<line x1="570.96" y1="266" x2="570.96" y2="263.4" stroke="#585858" stroke-width="0.8"/>
<line x1="575.92" y1="6.45" x2="575.92" y2="9.05" stroke="#585858" stroke-width="0.8"/>
<line x1="575.92" y1="266" x2="575.92" y2="263.4" stroke="#585858" stroke-width="0.8"/>
<line x1="579.76" y1="6.45" x2="579.76" y2="9.05" stroke="#585858" stroke-width="0.8"/>
<line x1="579.76" y1="266" x2="579.76" y2="263.4" stroke="#585858" stroke-width="0.8"/>
<line x1="582.9" y1="6.45" x2="582.9" y2="9.05" stroke="#585858" stroke-width="0.8"/>
<line x1="582.9" y1="266" x2="582.9" y2="263.4" stroke="#585858" stroke-width="0.8"/>
<line x1="585.56" y1="6.45" x2="585.56" y2="9.05" stroke="#585858" stroke-width="0.8"/>
<line x1="585.56" y1="266" x2="585.56" y2="263.4" stroke="#585858" stroke-width="0.8"/>
<line x1="587.86" y1="6.45" x2="587.86" y2="9.05" stroke="#585858" stroke-width="0.8"/>
<line x1="587.86" y1="266" x2="587.86" y2="263.4" stroke="#585858" stroke-width="0.8"/>
<line x1="589.88" y1="6.45" x2="589.88" y2="9.05" stroke="#585858" stroke-width="0.8"/>
<line x1="589.88" y1="266" x2="589.88" y2="263.4" stroke="#585858" stroke-width="0.8"/>
<line x1="591.7" y1="6.45" x2="591.7" y2="11.65" stroke="#585858" stroke-width="0.8"/>
<line x1="591.7" y1="266" x2="591.7" y2="260.8" stroke="#585858" stroke-width="0.8"/>
<line x1="353.7" y1="162.3" x2="591.7" y2="162.3" stroke="#585858" stroke-width="0.8"/>
<text x="350.1" y="13" text-anchor="end" font-size="11.7">10<tspan dy="-5" font-size="7.8">4</tspan></text>
<text x="350.1" y="53.61" text-anchor="end" font-size="11.7">10<tspan dy="-5" font-size="7.8">3</tspan></text>
<text x="350.1" y="96.87" text-anchor="end" font-size="11.7">10<tspan dy="-5" font-size="7.8">2</tspan></text>
<text x="350.1" y="140.12" text-anchor="end" font-size="11.7">10<tspan dy="-5" font-size="7.8">1</tspan></text>
<text x="350.1" y="183.38" text-anchor="end" font-size="11.7">10<tspan dy="-5" font-size="7.8">0</tspan></text>
<text x="350.1" y="226.64" text-anchor="end" font-size="11.7">10<tspan dy="-5" font-size="7.8">-1</tspan></text>
<text x="350.1" y="265.6" text-anchor="end" font-size="11.7">10<tspan dy="-5" font-size="7.8">-2</tspan></text>
<text x="354.1" y="280.2" text-anchor="middle" font-size="11.7">10<tspan dy="-5" font-size="7.8">-4</tspan></text>
<text x="393.77" y="280.2" text-anchor="middle" font-size="11.7">10<tspan dy="-5" font-size="7.8">-3</tspan></text>
<text x="433.43" y="280.2" text-anchor="middle" font-size="11.7">10<tspan dy="-5" font-size="7.8">-2</tspan></text>
<text x="473.1" y="280.2" text-anchor="middle" font-size="11.7">10<tspan dy="-5" font-size="7.8">-1</tspan></text>
<text x="512.77" y="280.2" text-anchor="middle" font-size="11.7">10<tspan dy="-5" font-size="7.8">0</tspan></text>
<text x="552.43" y="280.2" text-anchor="middle" font-size="11.7">10<tspan dy="-5" font-size="7.8">1</tspan></text>
<text x="592.1" y="280.2" text-anchor="middle" font-size="11.7">10<tspan dy="-5" font-size="7.8">2</tspan></text>
<text x="472.8" y="293.6" text-anchor="middle" font-size="11.7">Plasma β</text>
<text transform="translate(321.2,135.8) rotate(-90)" text-anchor="middle" font-size="11.7">Heliocentric distance (Mm)</text>
<line x1="512.15" y1="266" x2="512.15" y2="6.45" stroke="#9a9a9a" stroke-width="1.6" stroke-dasharray="8 4.3 1.32 4.3"/>
<polyline points="462.9,9.4 459.9,12.4 457.9,16.2" fill="none" stroke="#333" stroke-width="0.65"/>
<polyline points="454.5,23.6 456.4,31.6" fill="none" stroke="#333" stroke-width="0.65"/>
<polyline points="461.5,38.75 469,43.5" fill="none" stroke="#333" stroke-width="0.65"/>
<polyline points="473,47.5 480,52.2" fill="none" stroke="#333" stroke-width="0.65"/>
<polyline points="486.5,56.3 493.8,61.2" fill="none" stroke="#333" stroke-width="0.65"/>
<polyline points="498.2,67.4 499.7,68.7 496.6,73.9" fill="none" stroke="#333" stroke-width="0.65"/>
<polyline points="490.5,78.6 483.1,82.6" fill="none" stroke="#333" stroke-width="0.65"/>
<polyline points="475.7,86 468.3,88.7" fill="none" stroke="#333" stroke-width="0.65"/>
<polyline points="460.7,91.7 453.9,94.4" fill="none" stroke="#333" stroke-width="0.65"/>
<polyline points="446.7,97.5 439.3,100.9" fill="none" stroke="#333" stroke-width="0.65"/>
<polyline points="432.1,104.2 424.8,107.6" fill="none" stroke="#333" stroke-width="0.65"/>
<polyline points="417.7,111.4 410.6,114.8" fill="none" stroke="#333" stroke-width="0.65"/>
<polyline points="403.9,119.1 397.3,123.5" fill="none" stroke="#333" stroke-width="0.65"/>
<polyline points="390.8,128.2 384.3,132.6" fill="none" stroke="#333" stroke-width="0.65"/>
<polyline points="378,138.3 372.9,143.7" fill="none" stroke="#333" stroke-width="0.65"/>
<polyline points="367.9,149.6 362.5,155.9" fill="none" stroke="#333" stroke-width="0.65"/>
<polyline points="358.1,162.2 354,169" fill="none" stroke="#333" stroke-width="0.65"/>
<polyline points="360.9,173.75 369,175.1" fill="none" stroke="#333" stroke-width="0.65"/>
<polyline points="376.5,176.3 384.4,177.8" fill="none" stroke="#333" stroke-width="0.65"/>
<polyline points="392.1,179.2 400,180.5" fill="none" stroke="#333" stroke-width="0.65"/>
<polyline points="407.9,181.4 415.4,182.9" fill="none" stroke="#333" stroke-width="0.65"/>
<polyline points="423.35,184.9 431.2,186.5" fill="none" stroke="#333" stroke-width="0.65"/>
<polyline points="439,188.6 446.6,190.3" fill="none" stroke="#333" stroke-width="0.65"/>
<polyline points="454.1,192.6 461.5,195.7" fill="none" stroke="#333" stroke-width="0.65"/>
<polyline points="468.3,199.3 472,201.4 475,204.4" fill="none" stroke="#333" stroke-width="0.65"/>
<polyline points="479.5,210.2 482.2,214 483.8,217.6" fill="none" stroke="#333" stroke-width="0.65"/>
<polyline points="484.7,225.3 484.85,233.3" fill="none" stroke="#333" stroke-width="0.65"/>
<polyline points="484.85,241.4 484.85,249.4" fill="none" stroke="#333" stroke-width="0.65"/>
<polyline points="484.85,257.6 484.85,266" fill="none" stroke="#333" stroke-width="0.65"/>
<polyline points="586.7,47.5 591,45.8" fill="none" stroke="#333" stroke-width="0.65"/>
<polyline points="572.5,55.2 579.6,51.3" fill="none" stroke="#333" stroke-width="0.65"/>
<polyline points="558.8,63 566,59" fill="none" stroke="#333" stroke-width="0.65"/>
<polyline points="544.4,70.2 551.9,66.7" fill="none" stroke="#333" stroke-width="0.65"/>
<polyline points="530.3,77.2 537.4,73.9" fill="none" stroke="#333" stroke-width="0.65"/>
<polyline points="516.2,85.3 523.6,81.7" fill="none" stroke="#333" stroke-width="0.65"/>
<polyline points="502.1,92 509.4,88.7" fill="none" stroke="#333" stroke-width="0.65"/>
<polyline points="488.3,99.8 495,95.8" fill="none" stroke="#333" stroke-width="0.65"/>
<polyline points="475.1,108.6 481.6,104.3" fill="none" stroke="#333" stroke-width="0.65"/>
<polyline points="463,118.7 465.5,115.8 468.8,113.3" fill="none" stroke="#333" stroke-width="0.65"/>
<polyline points="457.5,125.1 455,128.2 453.2,131.4" fill="none" stroke="#333" stroke-width="0.65"/>
<polyline points="448.75,138.6 446.2,145.7" fill="none" stroke="#333" stroke-width="0.65"/>
<polyline points="443.8,153.75 442.4,161.8" fill="none" stroke="#333" stroke-width="0.65"/>
<polyline points="442.15,168.6 449.2,172.6" fill="none" stroke="#333" stroke-width="0.65"/>
<polyline points="457,174.5 464.6,176.7" fill="none" stroke="#333" stroke-width="0.65"/>
<polyline points="472.4,177.4 480.3,178.7" fill="none" stroke="#333" stroke-width="0.65"/>
<polyline points="488.1,179.3 496.2,180.9" fill="none" stroke="#333" stroke-width="0.65"/>
<polyline points="504,182.2 511.9,183.45" fill="none" stroke="#333" stroke-width="0.65"/>
<polyline points="519.7,184.9 527.4,186.5" fill="none" stroke="#333" stroke-width="0.65"/>
<polyline points="535.2,188.5 542.7,190.2" fill="none" stroke="#333" stroke-width="0.65"/>
<polyline points="550.6,192 558.3,194.4" fill="none" stroke="#333" stroke-width="0.65"/>
<polyline points="565.35,197.1 572.4,201.3" fill="none" stroke="#333" stroke-width="0.65"/>
<polyline points="578.9,206 584.1,211.8" fill="none" stroke="#333" stroke-width="0.65"/>
<polyline points="588,218.6 591.5,225.7" fill="none" stroke="#333" stroke-width="0.65"/>
<line x1="413.7" y1="35.8" x2="458.2" y2="35.8" stroke="#000" stroke-width="1.35"/>
<line x1="413.7" y1="32.6" x2="413.7" y2="39" stroke="#000" stroke-width="1.35"/>
<line x1="458.2" y1="32.6" x2="458.2" y2="39" stroke="#000" stroke-width="1.35"/>
<line x1="416.1" y1="39.25" x2="473.7" y2="39.25" stroke="#000" stroke-width="1.35"/>
<line x1="416.1" y1="36.05" x2="416.1" y2="42.45" stroke="#000" stroke-width="1.35"/>
<line x1="473.7" y1="36.05" x2="473.7" y2="42.45" stroke="#000" stroke-width="1.35"/>
<line x1="397.5" y1="43.65" x2="471.6" y2="43.65" stroke="#000" stroke-width="1.35"/>
<line x1="397.5" y1="40.45" x2="397.5" y2="46.85" stroke="#000" stroke-width="1.35"/>
<line x1="471.6" y1="40.45" x2="471.6" y2="46.85" stroke="#000" stroke-width="1.35"/>
<line x1="432.5" y1="44.3" x2="499" y2="44.3" stroke="#585858" stroke-width="0.65"/>
<line x1="432.5" y1="41.3" x2="432.5" y2="47.3" stroke="#585858" stroke-width="0.65"/>
<line x1="499" y1="41.3" x2="499" y2="47.3" stroke="#585858" stroke-width="0.65"/>
<line x1="487.4" y1="40.4" x2="487.4" y2="48.5" stroke="#585858" stroke-width="0.65"/>
<line x1="484.4" y1="40.4" x2="490.4" y2="40.4" stroke="#585858" stroke-width="0.65"/>
<line x1="484.4" y1="48.5" x2="490.4" y2="48.5" stroke="#585858" stroke-width="0.65"/>
<circle cx="487.4" cy="44.3" r="2.4" fill="#000"/>
<line x1="526.4" y1="48.85" x2="535.6" y2="48.85" stroke="#333" stroke-width="0.6"/>
<line x1="531" y1="44.25" x2="531" y2="53.45" stroke="#333" stroke-width="0.6"/>
<line x1="526.4" y1="44.25" x2="535.6" y2="53.45" stroke="#222" stroke-width="0.6"/>
<line x1="526.4" y1="53.45" x2="535.6" y2="44.25" stroke="#222" stroke-width="0.6"/>
<line x1="535.1" y1="54" x2="544.3" y2="54" stroke="#333" stroke-width="0.6"/>
<line x1="539.7" y1="49.4" x2="539.7" y2="58.6" stroke="#333" stroke-width="0.6"/>
<line x1="535.1" y1="49.4" x2="544.3" y2="58.6" stroke="#222" stroke-width="0.6"/>
<line x1="535.1" y1="58.6" x2="544.3" y2="49.4" stroke="#222" stroke-width="0.6"/>
<line x1="543.9" y1="99.4" x2="543.9" y2="162.3" stroke="#999" stroke-width="1.4"/>
<line x1="540.9" y1="99.4" x2="546.9" y2="99.4" stroke="#999" stroke-width="1.4"/>
<line x1="541.4" y1="162.3" x2="546.4" y2="162.3" stroke="#999" stroke-width="1.4"/>
<line x1="532.5" y1="112" x2="550.8" y2="112" stroke="#999" stroke-width="1.4"/>
<line x1="532.5" y1="108.9" x2="532.5" y2="115.1" stroke="#999" stroke-width="1.4"/>
<line x1="550.8" y1="108.9" x2="550.8" y2="115.1" stroke="#999" stroke-width="1.4"/>
<polygon points="541,112 543.9,109.1 546.8,112 543.9,114.9" fill="#b0b0b0" stroke="#5a5a5a" stroke-width="0.8"/>
</svg>
</body>
</html>
